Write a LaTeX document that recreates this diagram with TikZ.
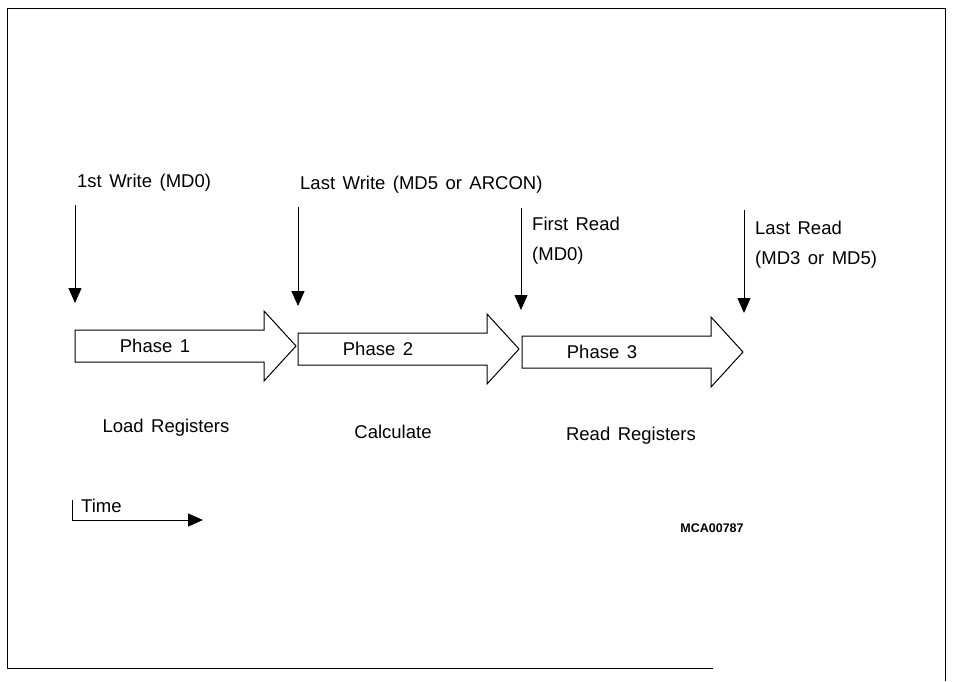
\documentclass[tikz,border=0pt]{standalone}
\usepackage{fontspec}
\setmainfont{Liberation Sans}[WordSpace=1.45]
\usetikzlibrary{arrows.meta,positioning}

\tikzset{
    lbl/.style={font=\fontsize{18.5}{30}\selectfont, inner sep=0pt},
    evt/.style={line width=1pt, -{Triangle[length=15pt,width=13pt]}},
    phase/.style={line width=1pt, draw=black, fill=white, line join=miter}
}

\begin{document}
\begin{tikzpicture}[x=1pt,y=1pt]

\useasboundingbox (0,0) rectangle (958,-681);

% Cadre
\draw[line width=0.8pt] (713,-668) -- (7,-668) -- (7,-8) -- (945,-8) -- (945,-681);

% Evenements
\node[lbl, anchor=west] (w1) at (77,-183) {1st Write (MD0)};
\node[lbl, anchor=west] (w2) at (300,-185) {Last Write (MD5 or ARCON)};
\node[lbl, anchor=north west, align=left] (r1) at (532,-217) {First Read\\(MD0)};
\node[lbl, anchor=north west, align=left] (r2) at (755,-221) {Last Read\\(MD3 or MD5)};

\coordinate (w1s) at (75,-205);  \coordinate (w1e) at (75,-303);
\coordinate (w2s) at (298,-207); \coordinate (w2e) at (298,-306);
\coordinate (r1s) at (521,-208); \coordinate (r1e) at (521,-310);
\coordinate (r2s) at (744,-210); \coordinate (r2e) at (744,-313);

\foreach \e in {w1,w2,r1,r2} {
    \draw[evt] (\e s) -- (\e e);
}

% Phases
\foreach \n/\x/\y in {1/75/346, 2/298/349, 3/522/352} {

    % Fleche de phase
    \draw[phase] (\x,{16-\y}) -- ++(189,0) -- ++(0,19) -- ++(32,-35)
        -- ++(-32,-35) -- ++(0,19) -- ++(-189,0) -- cycle;

    % Nom
    \node[lbl] (ph\n) at ({\x+80},-\y) {Phase \n};
}

% Legendes
\node[lbl] (load) at (166,-428) {Load Registers};
\node[lbl] (calc) at (393,-432) {Calculate};
\node[lbl] (readr) at (631,-436) {Read Registers};

% Temps
\coordinate (t0) at (72,-520);
\coordinate (t1) at (203,-520);
\draw[line width=1pt] (72,-500) -- (t0);
\draw[evt] (t0) -- (t1);
\node[lbl, anchor=west] (time) at (81,-506) {Time};

\node[font=\fontsize{12.5}{14}\selectfont\bfseries, inner sep=0pt] (ref) at (712,-528) {MCA00787};

\end{tikzpicture}
\end{document}
